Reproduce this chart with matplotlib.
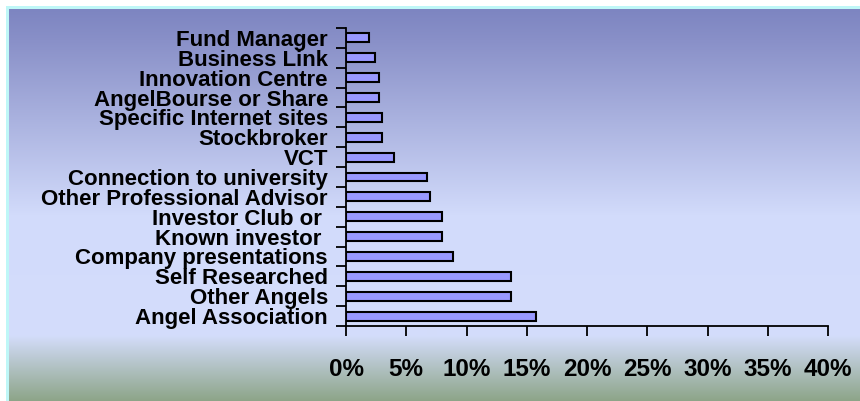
import numpy as np
import matplotlib.pyplot as plt
from matplotlib.colors import to_rgb
from matplotlib.ticker import FixedLocator, PercentFormatter

# categories from bottom to top
sources = ["Angel Association", "Other Angels", "Self Researched",
           "Company presentations", "Known investor ", "Investor Club or ",
           "Other Professional Advisor", "Connection to university", "VCT",
           "Stockbroker", "Specific Internet sites", "AngelBourse or Share",
           "Innovation Centre", "Business Link", "Fund Manager"]
share = [15.8, 13.7, 13.7, 8.9, 8.0, 8.0, 7.0, 6.7, 4.0,
         3.0, 3.0, 2.7, 2.7, 2.4, 1.9]
xticks = [0, 5, 10, 15, 20, 25, 30, 35, 40]

plt.rcParams["font.family"] = ["Liberation Sans", "DejaVu Sans"]
plt.rcParams["font.weight"] = "bold"

W, H = 860, 401
fig = plt.figure(figsize=(W / 100, H / 100), dpi=100)

# background: white margin, cyan edge, vertical gradient
bg = fig.add_axes([0, 0, 1, 1])
stops_y = [9, 40, 215, 335, 401]
stops_c = [to_rgb("#7d85c1"), to_rgb("#8990c8"), to_rgb("#d2dbfb"),
           to_rgb("#d4ddfb"), to_rgb("#8ca487")]
ys = np.arange(9, H)
grad = np.zeros((len(ys), 1, 3))
for k in range(3):
    grad[:, 0, k] = np.interp(ys, stops_y, [c[k] for c in stops_c])
bg.add_patch(plt.Rectangle((6, 6), W, H, color="#bff7f7", lw=0, zorder=1))
bg.imshow(grad, extent=(9, W, H, 9), aspect="auto",
          interpolation="bilinear", zorder=2)
bg.set_xlim(0, W)
bg.set_ylim(H, 0)
bg.axis("off")

ax = fig.add_axes([346 / W, (H - 326) / H, 482 / W, 298 / H])
ax.patch.set_alpha(0)
pos = np.arange(len(sources))
ax.barh(pos, share, height=0.45, color="#9999ff", edgecolor="black", lw=1.5)

ax.set_xlim(0, 40)
ax.set_ylim(-0.5, len(sources) - 0.5)
for s in ["top", "right"]:
    ax.spines[s].set_visible(False)
for s in ["left", "bottom"]:
    ax.spines[s].set_linewidth(1.3)

ax.set_xticks(xticks)
ax.xaxis.set_major_formatter(PercentFormatter(decimals=0))
ax.tick_params(axis="x", length=7, width=1.3, pad=16, labelsize=17.5)

ax.set_yticks(pos)
ax.set_yticklabels(sources, fontsize=16)
ax.yaxis.set_minor_locator(FixedLocator(np.arange(-0.5, len(sources), 1)))
ax.tick_params(axis="y", which="major", length=0, pad=13)
ax.tick_params(axis="y", which="minor", length=7, width=1.3)

fig.savefig("out.png", dpi=100)
